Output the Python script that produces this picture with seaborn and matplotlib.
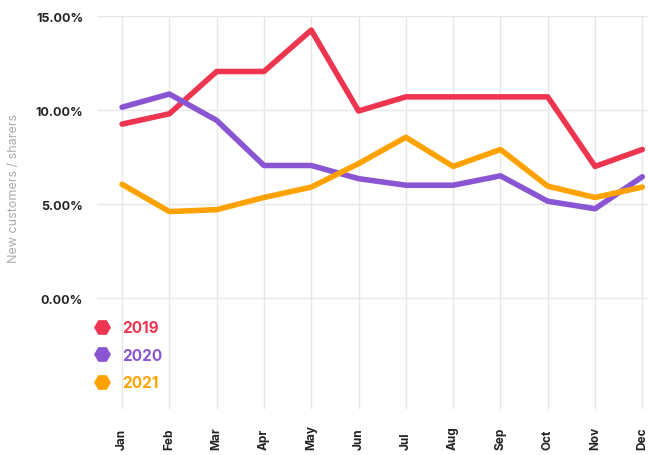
import matplotlib
matplotlib.use("Agg")
import matplotlib.pyplot as plt
from matplotlib.lines import Line2D
from matplotlib.ticker import FixedLocator, PercentFormatter
import pandas as pd
import seaborn as sns

months = ["Jan", "Feb", "Mar", "Apr", "May", "Jun",
          "Jul", "Aug", "Sep", "Oct", "Nov", "Dec"]
years = ["2019", "2020", "2021"]
rate_2019 = [9.25, 9.8, 12.05, 12.05, 14.25, 9.95, 10.7, 10.7, 10.7, 10.7, 7.0, 7.9]
rate_2020 = [10.15, 10.85, 9.45, 7.05, 7.05, 6.35, 6.0, 6.0, 6.5, 5.15, 4.75, 6.45]
rate_2021 = [6.05, 4.6, 4.7, 5.35, 5.9, 7.15, 8.55, 7.0, 7.9, 5.95, 5.35, 5.9]
y_ticks = [0, 5, 10, 15]

colors = {"2019": "#EE3550", "2020": "#8A55D2", "2021": "#FFA200"}

df = pd.DataFrame({
    "month_idx": list(range(12)) * 3,
    "rate": rate_2019 + rate_2020 + rate_2021,
    "year": [y for y in years for _ in months],
})

sns.set_theme(style="white")
plt.rcParams["font.family"] = ["Inter", "DejaVu Sans"]

fig = plt.figure(figsize=(6.48, 4.56), dpi=100)
ax = fig.add_axes([0.1497, 0.1009, 0.8503, 0.8618])

sns.lineplot(data=df, x="month_idx", y="rate", hue="year", palette=colors,
             linewidth=4, legend=False, ax=ax, zorder=3)

ax.set_xlim(-0.53, 11.12)
ax.set_ylim(-5.9, 15)
ax.xaxis.set_major_locator(FixedLocator(range(12)))
ax.set_xticklabels(months, rotation=90, va="bottom", fontsize=8.5,
                   fontweight="bold", color="#222222")
ax.yaxis.set_major_locator(FixedLocator(y_ticks))
ax.yaxis.set_major_formatter(PercentFormatter(decimals=2))
for lbl in ax.get_yticklabels():
    lbl.set_fontweight("bold")
    lbl.set_fontsize(9)
    lbl.set_color("#222222")
ax.tick_params(axis="x", length=0, pad=29)
ax.tick_params(axis="y", length=0, pad=10)

ax.grid(True, color="#E6E6EC", linewidth=1)
for s in ax.spines.values():
    s.set_visible(False)

ax.set_xlabel("")
ax.set_ylabel("New customers / sharers", fontsize=9, color="#AAAAAA")
ax.yaxis.set_label_coords(-0.14, 0.565)

handles = [Line2D([], [], marker="H", linestyle="none", markersize=11,
                  markerfacecolor=colors[y], markeredgecolor=colors[y])
           for y in years]
leg = ax.legend(handles, years, loc="upper left", bbox_to_anchor=(0.125, 0.309),
                bbox_transform=fig.transFigure, frameon=False,
                handletextpad=0.3, labelspacing=0.81, borderaxespad=0,
                prop={"weight": "bold", "size": 11})
for txt, y in zip(leg.get_texts(), years):
    txt.set_color(colors[y])

fig.savefig("out.png", dpi=100)
